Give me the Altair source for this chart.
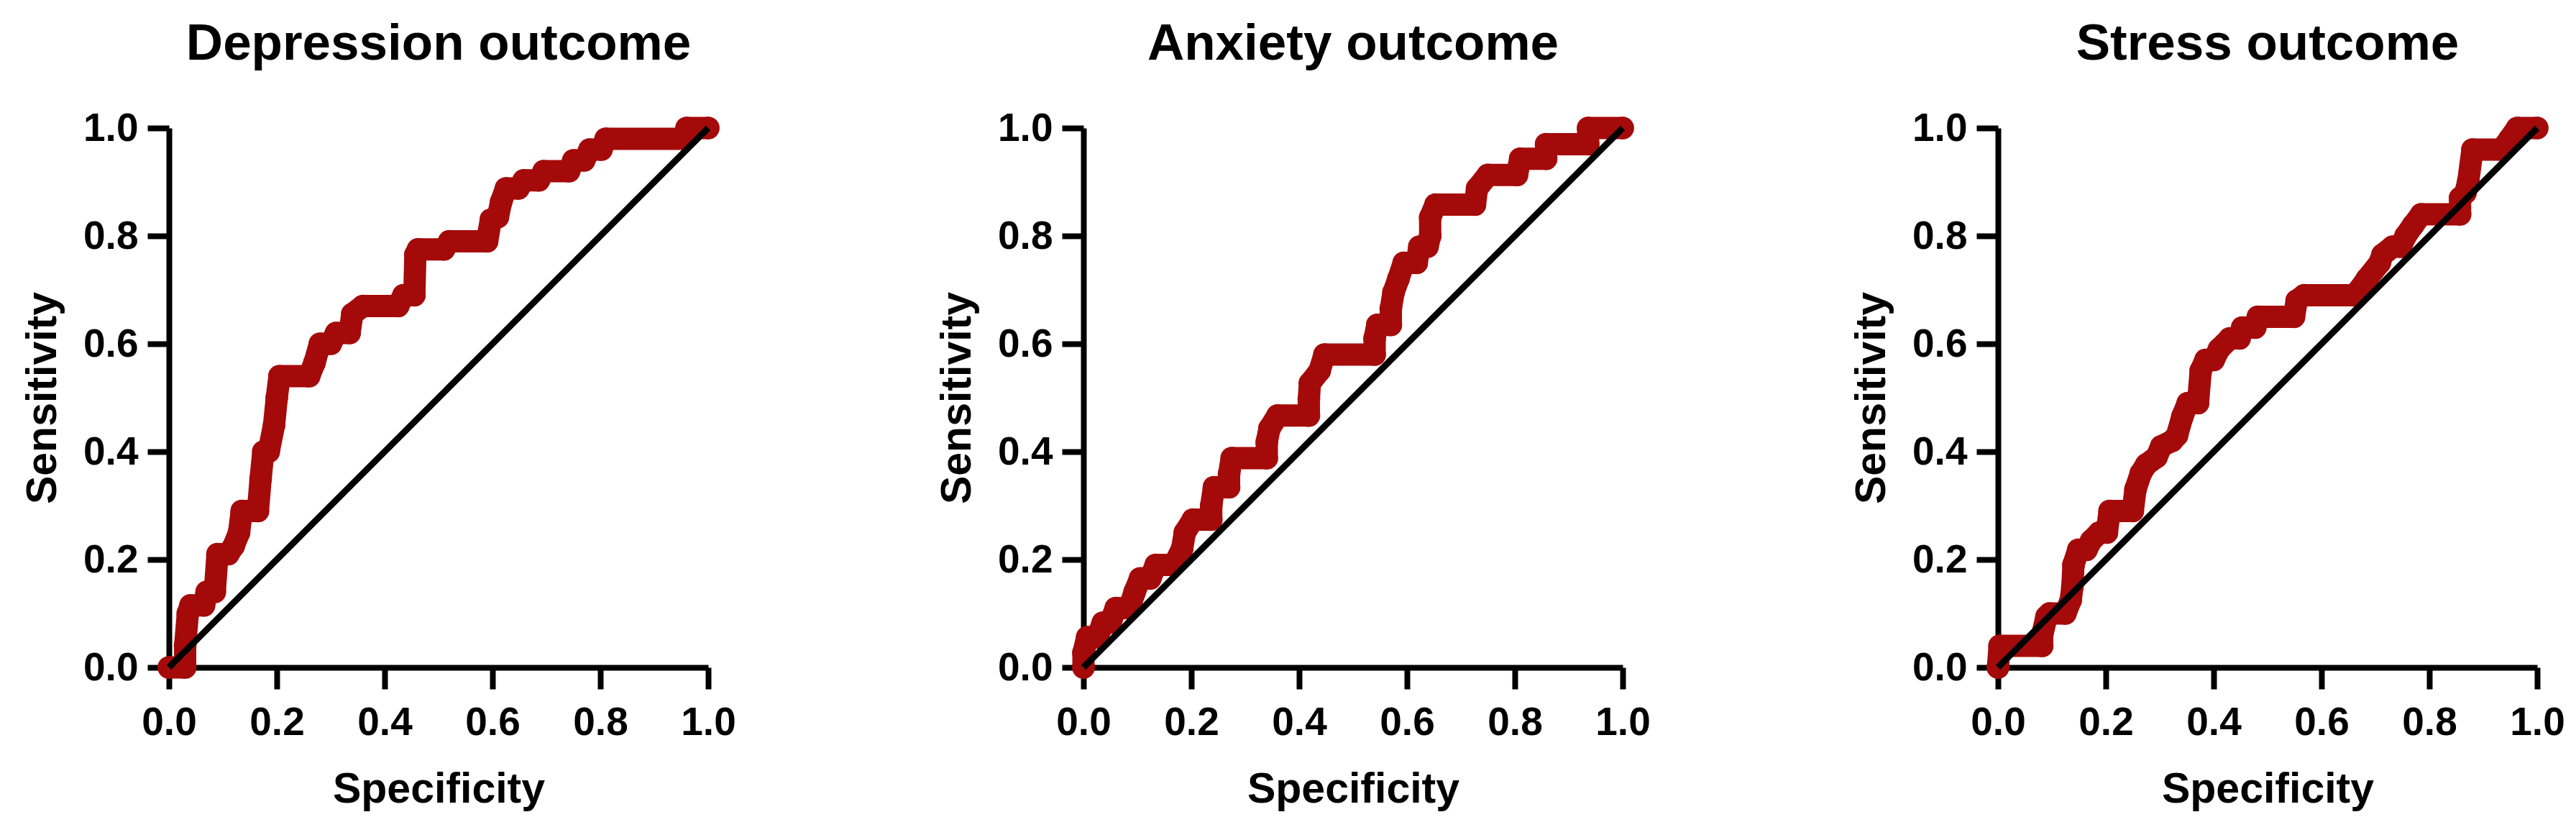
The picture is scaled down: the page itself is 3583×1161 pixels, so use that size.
import altair as alt
import pandas as pd

# ---- data (x = Specificity axis, y = Sensitivity) ----
dep_spec = [0.0, 0.03, 0.03, 0.035, 0.04, 0.065, 0.07, 0.085, 0.09, 0.11, 0.12, 0.13, 0.135, 0.165,
            0.17, 0.175, 0.185, 0.195, 0.2, 0.205, 0.26, 0.27, 0.28, 0.3, 0.31, 0.335, 0.34, 0.36,
            0.425, 0.435, 0.455, 0.457, 0.462, 0.51, 0.52, 0.59, 0.597, 0.61, 0.616, 0.625, 0.648,
            0.658, 0.686, 0.695, 0.742, 0.75, 0.77, 0.78, 0.802, 0.81, 0.956, 0.96, 1.0]
dep_sens = [0.0, 0.0, 0.04, 0.1, 0.115, 0.115, 0.14, 0.14, 0.21, 0.21, 0.225, 0.25, 0.29, 0.29,
            0.35, 0.4, 0.4, 0.45, 0.5, 0.54, 0.54, 0.565, 0.6, 0.6, 0.62, 0.62, 0.655, 0.67,
            0.67, 0.69, 0.69, 0.765, 0.775, 0.775, 0.79, 0.79, 0.83, 0.835, 0.863, 0.888, 0.888,
            0.903, 0.903, 0.92, 0.92, 0.94, 0.94, 0.96, 0.96, 0.98, 0.98, 1.0, 1.0]

anx_spec = [0.0, 0.0, 0.007, 0.026, 0.036, 0.05, 0.06, 0.085, 0.095, 0.105, 0.124, 0.134, 0.168,
            0.183, 0.188, 0.203, 0.237, 0.237, 0.242, 0.27, 0.27, 0.275, 0.34, 0.34, 0.345, 0.36,
            0.418, 0.418, 0.42, 0.438, 0.447, 0.54, 0.54, 0.545, 0.57, 0.57, 0.575, 0.584, 0.594,
            0.618, 0.623, 0.638, 0.643, 0.643, 0.653, 0.726, 0.73, 0.75, 0.804, 0.81, 0.858, 0.858,
            0.936, 0.936, 1.0]
anx_sens = [0.0, 0.027, 0.056, 0.056, 0.083, 0.083, 0.11, 0.11, 0.14, 0.165, 0.165, 0.19, 0.19,
            0.22, 0.25, 0.274, 0.274, 0.3, 0.334, 0.334, 0.358, 0.388, 0.388, 0.418, 0.443, 0.467,
            0.467, 0.497, 0.527, 0.55, 0.58, 0.58, 0.61, 0.635, 0.635, 0.665, 0.695, 0.72, 0.75,
            0.75, 0.78, 0.78, 0.8, 0.834, 0.858, 0.858, 0.888, 0.913, 0.913, 0.943, 0.943, 0.97,
            0.97, 1.0, 1.0]

str_spec = [0.0, 0.003, 0.082, 0.082, 0.09, 0.096, 0.125, 0.135, 0.138, 0.14, 0.149, 0.164, 0.173,
            0.188, 0.202, 0.207, 0.25, 0.255, 0.265, 0.275, 0.294, 0.303, 0.323, 0.332, 0.342,
            0.352, 0.371, 0.376, 0.385, 0.40, 0.41, 0.43, 0.448, 0.453, 0.477, 0.482, 0.549, 0.554,
            0.568, 0.66, 0.67, 0.684, 0.708, 0.713, 0.732, 0.747, 0.756, 0.77, 0.785, 0.857, 0.857,
            0.867, 0.872, 0.88, 0.934, 0.949, 0.963, 1.0]
str_sens = [0.0, 0.04, 0.04, 0.06, 0.094, 0.1, 0.1, 0.125, 0.15, 0.19, 0.218, 0.218, 0.235, 0.25,
            0.25, 0.29, 0.29, 0.33, 0.36, 0.376, 0.39, 0.41, 0.42, 0.43, 0.465, 0.49, 0.49, 0.55,
            0.57, 0.57, 0.59, 0.61, 0.61, 0.63, 0.63, 0.65, 0.65, 0.68, 0.69, 0.69, 0.70, 0.72,
            0.75, 0.765, 0.78, 0.78, 0.80, 0.82, 0.84, 0.84, 0.87, 0.88, 0.90, 0.96, 0.96, 0.98,
            1.0, 1.0]

diag_x = [0.0, 1.0]
diag_y = [0.0, 1.0]

titles = ["Depression outcome", "Anxiety outcome", "Stress outcome"]
tick_values = [0.0, 0.2, 0.4, 0.6, 0.8, 1.0]
x_title = "Specificity"
y_title = "Sensitivity"

RED = "#A50A0A"
FONT = "Liberation Sans"
W = 750
H = 750


def panel(title, xs, ys):
    df = pd.DataFrame({"spec": xs, "sens": ys, "idx": list(range(len(xs)))})
    diag = pd.DataFrame({"spec": diag_x, "sens": diag_y})

    xscale = alt.Scale(domain=[0, 1], nice=False, zero=False)
    yscale = alt.Scale(domain=[0, 1], nice=False, zero=False)
    xaxis = alt.Axis(values=tick_values, format=".1f", title=x_title,
                     labelPadding=20, labelFlush=False, labelOverlap=False,
                     titleX=W / 2, titleY=187, titleBaseline="alphabetic",
                     titleAlign="center")
    yaxis = alt.Axis(values=tick_values, format=".1f", title=y_title,
                     labelPadding=13, labelFlush=False, labelOverlap=False,
                     titleX=-158, titleY=H / 2, titleAngle=270,
                     titleBaseline="alphabetic", titleAlign="center")

    x = alt.X("spec:Q", scale=xscale, axis=xaxis)
    y = alt.Y("sens:Q", scale=yscale, axis=yaxis)

    base = alt.Chart(df)
    curve = base.mark_line(color=RED, strokeWidth=31, strokeJoin="round",
                           strokeCap="round").encode(x=x, y=y, order="idx:Q")
    dots = base.mark_circle(color=RED, size=1000, opacity=1).encode(x=x, y=y)
    ref = alt.Chart(diag).mark_line(color="black", strokeWidth=9).encode(
        x=alt.X("spec:Q", scale=xscale, axis=xaxis),
        y=alt.Y("sens:Q", scale=yscale, axis=yaxis))

    return alt.layer(curve, dots, ref).properties(
        width=W, height=H,
        title=alt.TitleParams(text=title, anchor="middle", font=FONT, fontSize=71,
                              fontWeight="bold", color="black",
                              baseline="alphabetic", offset=-3))


chart = alt.hconcat(
    panel(titles[0], dep_spec, dep_sens),
    panel(titles[1], anx_spec, anx_sens),
    panel(titles[2], str_spec, str_sens),
    spacing=522, bounds="flush",
).properties(
    padding={"left": 30, "top": 26, "right": 10, "bottom": 10},
    background="white",
).configure_view(stroke=None).configure_axis(
    grid=False,
    domainColor="black", domainWidth=8,
    tickColor="black", tickWidth=8, tickSize=30,
    labelFont=FONT, labelFontSize=55, labelFontWeight="bold", labelColor="black",
    titleFont=FONT, titleFontSize=59, titleFontWeight="bold", titleColor="black",
)

chart.save("out.html", embed_options={"renderer": "svg", "actions": False})
